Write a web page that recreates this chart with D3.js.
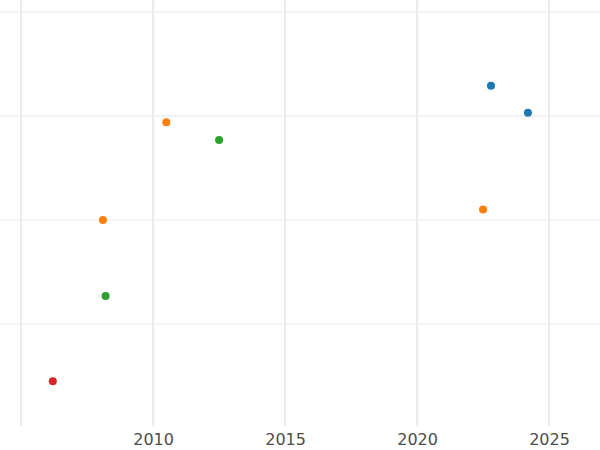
<!DOCTYPE html>
<html>
<head>
<meta charset="utf-8">
<script src="https://cdn.jsdelivr.net/npm/d3@7"></script>
<style>
  body { margin: 0; background: #fff; }
  svg { display: block; font-family: "DejaVu Sans", sans-serif; }
</style>
</head>
<body>
<div id="chart"></div>
<script>
// data
var years  = [2022.8, 2024.2, 2010.5, 2008.1, 2022.5, 2012.5, 2008.2, 2006.2];
var values = [3.29, 3.03, 2.94, 2.00, 2.10, 2.77, 1.27, 0.45];
var groups = ["a", "a", "b", "b", "b", "c", "c", "d"];
var groupColors = ["#1f77b4", "#ff7f0e", "#2ca02c", "#d62728"];
var xTicks = [2005, 2010, 2015, 2020, 2025];
var yTicks = [1, 2, 3, 4];

var width = 600, height = 450, plotBottom = 428;

var svg = d3.select("#chart").append("svg")
    .attr("width", width).attr("height", height);

var x = d3.scaleLinear().domain([2004.2, 2026.93]).range([0, width]);
var y = d3.scaleLinear().domain([0, 4.115]).range([plotBottom, 0]);
var color = d3.scaleOrdinal().domain(["a", "b", "c", "d"]).range(groupColors);

//** gridlines
svg.append("g").selectAll("line").data(yTicks).join("line")
    .attr("x1", 0).attr("x2", width)
    .attr("y1", function(d){ return y(d); })
    .attr("y2", function(d){ return y(d); })
    .attr("stroke", "#ebebeb").attr("stroke-width", 1.2);

svg.append("g").selectAll("line").data(xTicks).join("line")
    .attr("y1", 0).attr("y2", plotBottom - 2)
    .attr("x1", function(d){ return x(d); })
    .attr("x2", function(d){ return x(d); })
    .attr("stroke", "#ebebeb").attr("stroke-width", 2);

//** x axis labels
var xAxis = d3.axisBottom(x).tickValues(xTicks.slice(1)).tickFormat(d3.format("d")).tickSize(0).tickPadding(5);
svg.append("g").attr("transform", "translate(0," + (plotBottom + 1) + ")")
    .call(xAxis)
    .attr("font-family", "DejaVu Sans, sans-serif")
    .call(function(g){ g.select(".domain").remove(); })
    .selectAll("text").attr("fill", "#4d4d4d").attr("font-size", 16);

//** points
svg.append("g").selectAll("circle").data(years).join("circle")
    .attr("cx", function(d){ return x(d); })
    .attr("cy", function(d, i){ return y(values[i]); })
    .attr("r", 4)
    .attr("fill", function(d, i){ return color(groups[i]); });
</script>
</body>
</html>
